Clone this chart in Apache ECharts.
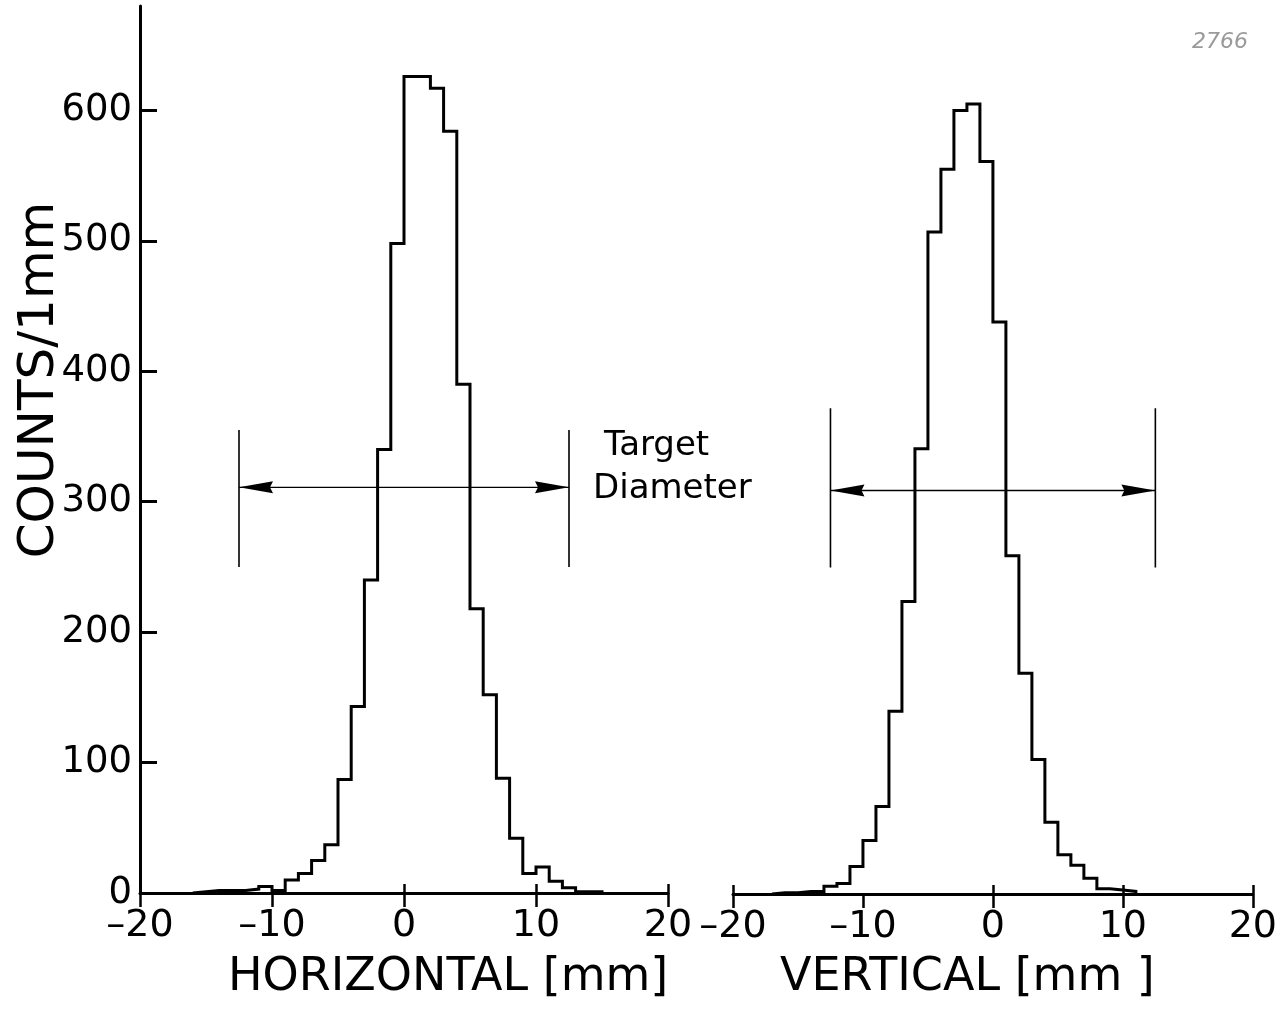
<!DOCTYPE html>
<html>
<head>
<meta charset="utf-8">
<script src="https://cdn.jsdelivr.net/npm/echarts@6/dist/echarts.min.js"></script>
<style>
  html, body { margin: 0; padding: 0; background: #ffffff; }
  #chart { width: 1280px; height: 1014px; }
</style>
</head>
<body>
<div id="chart"></div>
<script>
// Beam profile histograms, 1 mm bins (left edge of each bin)
const binWidth = 1;
const horizontalBinLeft = [-16, -15, -14, -13, -12, -11, -10, -9, -8, -7, -6, -5, -4, -3, -2, -1,
  0, 1, 2, 3, 4, 5, 6, 7, 8, 9, 10, 11, 12, 13, 14];
const horizontalCounts = [1, 2, 2, 2, 3, 5, 2, 10, 15, 25, 37, 87, 143, 240, 340, 498,
  626, 626, 617, 584, 390, 218, 152, 88, 42, 15, 20, 9, 4, 1, 1];

const verticalBinLeft = [-17, -16, -15, -14, -13, -12, -11, -10, -9, -8, -7, -6, -5, -4, -3, -2, -1,
  0, 1, 2, 3, 4, 5, 6, 7, 8, 9, 10];
const verticalCounts = [1, 1, 2, 2, 6, 8, 21, 41, 67, 140, 224, 341, 507, 555, 600, 605, 561,
  438, 259, 169, 103, 55, 30, 22, 12, 4, 3, 2];

// Axis ticks
const xTicks = [-20, -10, 0, 10, 20];
const xInnerTicks = [-20, 0, 10, 20];
const yTicks = [100, 200, 300, 400, 500, 600];
const yLabels = [0, 100, 200, 300, 400, 500, 600];

// Target diameter markers (mm, counts)
const targetEdges = [-12.5, 12.5];
const arrowLevelH = 311;
const arrowLevelV = 309;
const markerSpanH = [250, 355];
const markerSpanV = [250, 372];

const FONT = "'DejaVu Sans', 'Liberation Sans', sans-serif";

function outline(lefts, counts) {
  const pts = [[lefts[0], 0]];
  lefts.forEach((x, i) => pts.push([x, counts[i]]));
  pts.push([lefts[lefts.length - 1] + binWidth, 0]);
  return pts;
}

function fmtTick(v) {
  return v < 0 ? '\u2013' + Math.abs(v) : String(v);
}

function xAxesFor(gridIndex) {
  return [
    {
      gridIndex, type: 'value', position: 'bottom', min: -20, max: 20, interval: 10,
      axisLine: { show: true, onZero: false, lineStyle: { color: '#000', width: 3 } },
      axisTick: { show: true, inside: false, length: 14, customValues: xTicks,
        lineStyle: { color: '#000', width: 2.5 } },
      axisLabel: { show: true, customValues: xTicks, formatter: fmtTick, color: '#000',
        fontFamily: FONT, fontSize: 38, margin: 14 },
      splitLine: { show: false }
    },
    {
      gridIndex, type: 'value', position: 'bottom', min: -20, max: 20, interval: 10,
      axisLine: { show: false, onZero: false },
      axisTick: { show: true, inside: true, length: 9, customValues: xInnerTicks,
        lineStyle: { color: '#000', width: 2.5 } },
      axisLabel: { show: false },
      splitLine: { show: false }
    }
  ];
}

function markerSeries(xAxisIndex, yAxisIndex, level, span) {
  const s = [];
  targetEdges.forEach(x => {
    s.push({
      type: 'line', xAxisIndex, yAxisIndex, silent: true, symbol: 'none',
      data: [[x, span[0]], [x, span[1]]],
      lineStyle: { color: '#000', width: 1.6 }, z: 3
    });
  });
  s.push({
    type: 'line', xAxisIndex, yAxisIndex, silent: true, symbol: 'none',
    data: [[targetEdges[0], level], [targetEdges[1], level]],
    lineStyle: { color: '#000', width: 1.3 }, z: 3
  });
  s.push({
    type: 'scatter', xAxisIndex, yAxisIndex, silent: true, z: 4,
    itemStyle: { color: '#000', opacity: 1 },
    data: [
      { value: [targetEdges[0], level], symbol: 'path://M0,6 L34,0 L31,6 L34,12 Z',
        symbolSize: [34, 12], symbolOffset: [17, 0] },
      { value: [targetEdges[1], level], symbol: 'path://M34,6 L0,0 L3,6 L0,12 Z',
        symbolSize: [34, 12], symbolOffset: [-17, 0] }
    ]
  });
  return s;
}

const chart = echarts.init(document.getElementById('chart'), null, { renderer: 'canvas' });

const yMax = 680;

chart.setOption({
  animation: false,
  backgroundColor: '#ffffff',
  grid: [
    { left: 140, width: 528, top: 6, height: 887 },
    { left: 733, width: 522, top: 6, height: 888 }
  ],
  xAxis: [...xAxesFor(0), ...xAxesFor(1)],
  yAxis: [
    {
      gridIndex: 0, type: 'value', min: 0, max: yMax, interval: 100,
      axisLine: { show: true, onZero: false, lineStyle: { color: '#000', width: 3 } },
      axisTick: { show: true, inside: true, length: 17, customValues: yTicks,
        lineStyle: { color: '#000', width: 3 } },
      axisLabel: { show: true, customValues: yLabels, color: '#000', fontFamily: FONT,
        fontSize: 37, margin: 8 },
      splitLine: { show: false }
    },
    {
      gridIndex: 1, type: 'value', min: 0, max: yMax, interval: 100, show: false,
      axisLine: { onZero: false },
      splitLine: { show: false }
    }
  ],
  series: [
    {
      name: 'HORIZONTAL', type: 'line', xAxisIndex: 0, yAxisIndex: 0, step: 'end',
      symbol: 'none', silent: true, data: outline(horizontalBinLeft, horizontalCounts),
      lineStyle: { color: '#000', width: 3, join: 'miter' }, z: 5
    },
    {
      name: 'VERTICAL', type: 'line', xAxisIndex: 2, yAxisIndex: 1, step: 'end',
      symbol: 'none', silent: true, data: outline(verticalBinLeft, verticalCounts),
      lineStyle: { color: '#000', width: 3, join: 'miter' }, z: 5
    },
    ...markerSeries(0, 0, arrowLevelH, markerSpanH),
    ...markerSeries(2, 1, arrowLevelV, markerSpanV)
  ],
  graphic: [
    {
      type: 'text', x: 40, y: 380, rotation: Math.PI / 2,
      style: { text: 'COUNTS/1mm', font: '50px ' + FONT, fill: '#000',
        textAlign: 'center', textVerticalAlign: 'middle' }
    },
    {
      type: 'text', x: 604, y: 446,
      style: { text: 'Target', font: '34px ' + FONT, fill: '#000',
        textAlign: 'left', textVerticalAlign: 'middle' }
    },
    {
      type: 'text', x: 593, y: 489,
      style: { text: 'Diameter', font: '34px ' + FONT, fill: '#000',
        textAlign: 'left', textVerticalAlign: 'middle' }
    },
    {
      type: 'text', x: 228, y: 978,
      style: { text: 'HORIZONTAL [mm]', font: '46px ' + FONT, fill: '#000',
        textAlign: 'left', textVerticalAlign: 'middle' }
    },
    {
      type: 'text', x: 780, y: 978,
      style: { text: 'VERTICAL [mm ]', font: '46px ' + FONT, fill: '#000',
        textAlign: 'left', textVerticalAlign: 'middle' }
    },
    {
      type: 'text', x: 1220, y: 42,
      style: { text: '2766', font: 'italic 22px ' + FONT, fill: '#9a9a9a',
        textAlign: 'center', textVerticalAlign: 'middle' }
    }
  ]
});
</script>
</body>
</html>
